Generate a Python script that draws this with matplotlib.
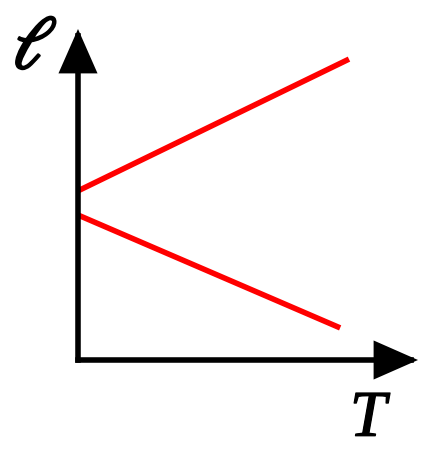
import matplotlib
matplotlib.use("Agg")
import matplotlib.pyplot as plt
import matplotlib.patheffects as pe

plt.rcParams["mathtext.fontset"] = "stix"

# schematic data (arbitrary units, axes span 0..10)
T_upper = [0.0, 7.97]
l_upper = [5.11, 9.09]
T_lower = [0.0, 7.71]
l_lower = [4.38, 0.97]

W, H = 443, 466
fig = plt.figure(figsize=(W / 100, H / 100), dpi=100)
fig.patch.set_facecolor("white")
ax = fig.add_axes([78 / W, (H - 360) / H, 340 / W, 331 / H])
ax.set_xlim(0, 10)
ax.set_ylim(0, 10)
ax.axis("off")

ax.plot(T_upper, l_upper, color="#ff0000", lw=4, solid_capstyle="butt", clip_on=False)
ax.plot(T_lower, l_lower, color="#ff0000", lw=4, solid_capstyle="butt", clip_on=False)

arrow = dict(arrowstyle="-|>,head_length=25,head_width=11", mutation_scale=1,
             lw=4, color="black", shrinkA=0, shrinkB=0, joinstyle="miter",
             capstyle="projecting")
ax.annotate("", xy=(1.0, 0.0), xytext=(0.0, 0.0), xycoords="axes fraction",
            arrowprops=arrow, annotation_clip=False)
ax.annotate("", xy=(0.0, 1.0), xytext=(0.0, 0.0), xycoords="axes fraction",
            arrowprops=arrow, annotation_clip=False)

fig.text(35 / W, 1 - 48 / H, r"$\ell$", fontsize=54, ha="center", va="center",
         path_effects=[pe.withStroke(linewidth=1.6, foreground="black")])
fig.text(368 / W, 1 - 420 / H, "T", family="Liberation Serif", style="italic",
         fontsize=47, ha="center", va="center",
         path_effects=[pe.withStroke(linewidth=0.9, foreground="black")])

fig.savefig("out.png", dpi=100, facecolor="white")
